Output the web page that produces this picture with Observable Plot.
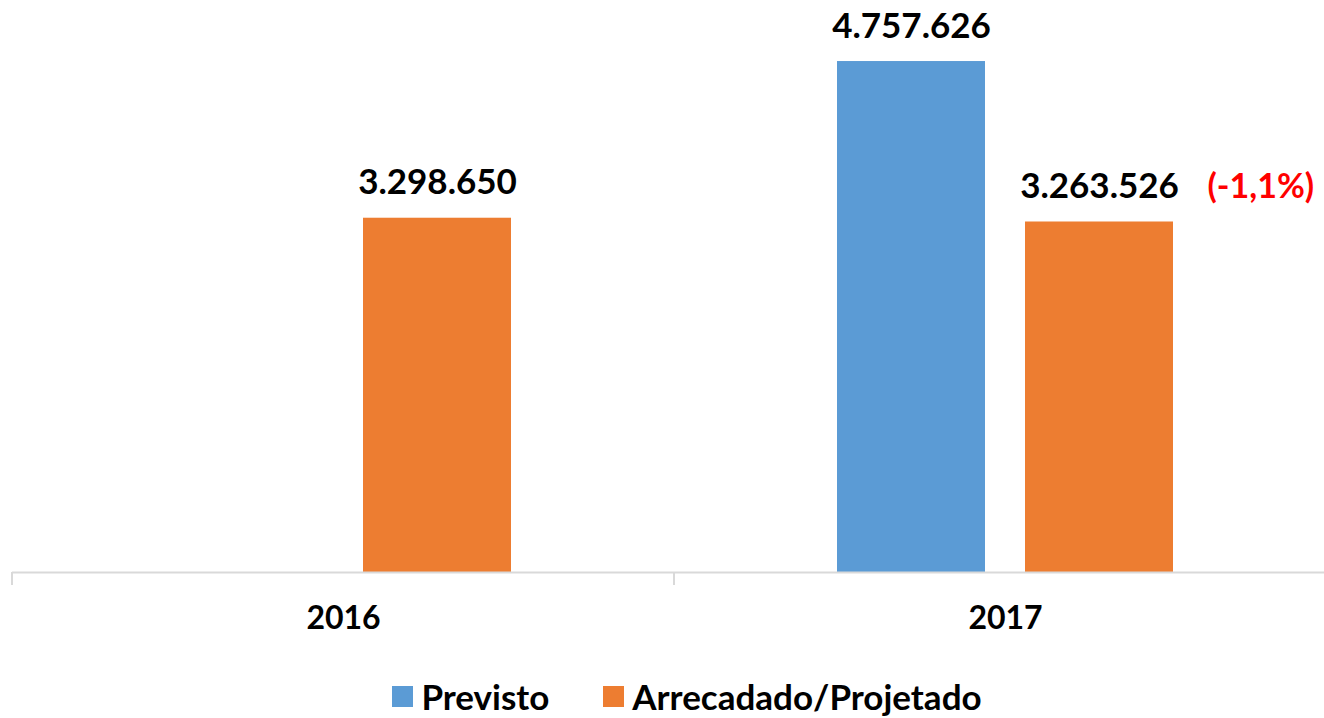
<!DOCTYPE html>
<html>
<head>
<meta charset="utf-8">
<script src="https://cdn.jsdelivr.net/npm/d3@7"></script>
<script src="https://cdn.jsdelivr.net/npm/@observablehq/plot@0.6"></script>
<style>
  html, body { margin: 0; padding: 0; background: #fff; }
  #chart { width: 1324px; height: 718px; position: relative; overflow: hidden; font-family: Lato, "Open Sans", sans-serif; }
  #chart svg { display: block; }
  .legend { position: absolute; left: 0; top: 672px; width: 1324px; height: 48px; display: flex; justify-content: center; align-items: center; padding-left: 50px; box-sizing: border-box; font-weight: bold; font-size: 35px; color: #000; }
  .legend .item { display: flex; align-items: center; }
  .legend .item + .item { margin-left: 54px; }
  .legend .sw { width: 21px; height: 21px; margin-right: 8px; }
</style>
</head>
<body>
<div id="chart"></div>
<script>
const years = ["2016", "2017"];
const series = ["Previsto", "Arrecadado/Projetado"];
const previsto = [null, 4757626];
const arrecadado = [3298650, 3263526];
const variationLabels = [null, "(-1,1%)"];
const colors = ["#5B9BD5", "#ED7D31"];

const data = [];
years.forEach((y, i) => {
  if (previsto[i] != null) data.push({year: y, series: series[0], value: previsto[i]});
  if (arrecadado[i] != null) data.push({year: y, series: series[1], value: arrecadado[i]});
});
const varData = years.map((y, i) => ({year: y, series: series[1], value: arrecadado[i], label: variationLabels[i]}))
  .filter(d => d.label != null);

const fmt = d3.formatLocale({decimal: ",", thousands: ".", grouping: [3], currency: ["", ""]}).format(",d");

const plot = Plot.plot({
  width: 1324,
  height: 670,
  marginTop: 35,
  marginBottom: 98,
  marginLeft: 12,
  marginRight: 0,
  fx: {domain: years, range: [12, 1336], padding: 0, axis: null},
  x: {domain: series, paddingInner: 40 / 188, paddingOuter: 0.867, axis: null},
  y: {domain: [0, 5000000], axis: null},
  color: {domain: series, range: colors},
  style: {fontFamily: "Lato, 'Open Sans', sans-serif", background: "white", overflow: "hidden"},
  marks: [
    Plot.barY(data, {fx: "year", x: "series", y: "value", fill: "series"}),
    Plot.ruleY([0], {stroke: "#d9d9d9", strokeWidth: 2}),
    Plot.text(data, {fx: "year", x: "series", y: "value", text: d => fmt(d.value), lineAnchor: "bottom", dy: -24, fontSize: 35, fontWeight: "bold", fill: "#000"}),
    Plot.text(varData, {fx: "year", x: "series", y: "value", text: "label", lineAnchor: "bottom", dy: -24, textAnchor: "start", dx: 108, fontSize: 34, fontWeight: "bold", fill: "#FF0000"}),
    Plot.text(years.map(y => ({year: y})), {fx: "year", frameAnchor: "bottom", dy: 56, text: "year", fontSize: 32, fontWeight: "bold", fill: "#000"})
  ]
});

// category boundary ticks derived from the fx scale
const fxs = plot.scale("fx");
const ys = plot.scale("y");
const y0 = ys.apply(0);
d3.select(plot).append("g")
  .selectAll("line").data(years).join("line")
  .attr("x1", d => fxs.apply(d)).attr("x2", d => fxs.apply(d))
  .attr("y1", y0).attr("y2", y0 + 13)
  .attr("stroke", "#d9d9d9").attr("stroke-width", 2);

const chart = document.getElementById("chart");
chart.appendChild(plot);

const legend = document.createElement("div");
legend.className = "legend";
series.forEach((s, i) => {
  const item = document.createElement("div");
  item.className = "item";
  const sw = document.createElement("div");
  sw.className = "sw";
  sw.style.background = colors[i];
  const label = document.createElement("span");
  label.textContent = s;
  item.appendChild(sw);
  item.appendChild(label);
  legend.appendChild(item);
});
chart.appendChild(legend);
</script>
</body>
</html>
